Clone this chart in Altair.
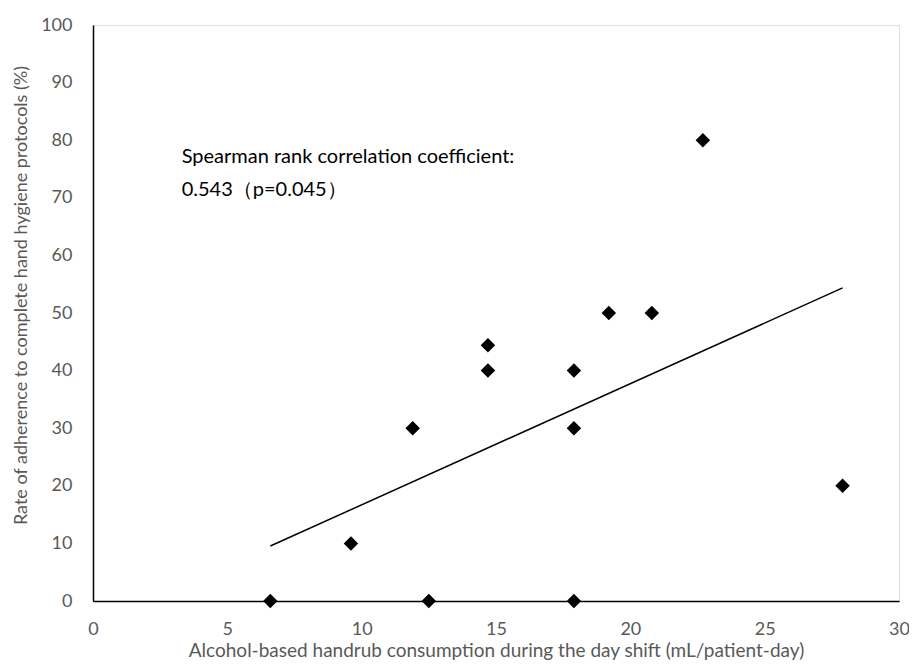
import altair as alt
import pandas as pd

consumption = [6.6, 9.6, 11.9, 12.5, 14.7, 14.7, 17.9, 17.9, 17.9, 19.2, 20.8, 22.7, 27.9]
adherence = [0, 10, 30, 0, 40, 44.4, 30, 40, 0, 50, 50, 80, 20]

note_x = [3.3, 3.3]
note_y = [77.0, 71.3]
note_text = ["Spearman rank correlation coefficient:", "0.543（p=0.045）"]

df = pd.DataFrame({"x": consumption, "y": adherence})
notes = pd.DataFrame({"x": note_x, "y": note_y, "t": note_text})

FONT = "Lato"
GRAY = "#595959"

xscale = alt.Scale(domain=[0, 30], nice=False, zero=True)
yscale = alt.Scale(domain=[0, 100], nice=False)

xaxis = alt.Axis(values=[0, 5, 10, 15, 20, 25, 30], title="Alcohol-based handrub consumption during the day shift (mL/patient-day)",
                 grid=False, ticks=False, domain=True, domainColor="black", domainWidth=1.5,
                 labelFlush=False, labelOverlap=False,
                 labelColor=GRAY, labelFontSize=18, labelFont=FONT, labelPadding=19,
                 titleColor=GRAY, titleFontSize=19, titleFont=FONT, titleFontWeight="normal", titlePadding=3)
yaxis = alt.Axis(values=list(range(0, 101, 10)), title="Rate of adherence to complete hand hygiene protocols (%)",
                 grid=False, ticks=False, domain=True, domainColor="black", domainWidth=1.5,
                 labelFlush=False, labelOverlap=False,
                 labelColor=GRAY, labelFontSize=18, labelFont=FONT, labelPadding=21,
                 titleColor=GRAY, titleFontSize=18, titleFont=FONT, titleFontWeight="normal", titlePadding=10,
                 titleY=270)

base = alt.Chart(df)

points = base.mark_point(shape="diamond", filled=True, color="black", size=210, opacity=1).encode(
    x=alt.X("x:Q", scale=xscale, axis=xaxis),
    y=alt.Y("y:Q", scale=yscale, axis=yaxis),
)

trend = base.transform_regression("x", "y", method="linear").mark_line(color="black", strokeWidth=1.5).encode(
    x=alt.X("x:Q", scale=xscale),
    y=alt.Y("y:Q", scale=yscale),
)

text = alt.Chart(notes).mark_text(align="left", baseline="middle", fontSize=20, font=FONT, color="black").encode(
    x=alt.X("x:Q", scale=xscale),
    y=alt.Y("y:Q", scale=yscale),
    text="t:N",
)

chart = alt.layer(trend, points, text).properties(
    width=806, height=576,
    autosize=alt.AutoSizeParams(type="none"),
    padding={"left": 85, "top": 17, "right": 10, "bottom": 61},
).configure_view(stroke="black", strokeWidth=1.5).configure(background="white")

chart.save("out.html", embed_options={"renderer": "svg", "actions": False})
